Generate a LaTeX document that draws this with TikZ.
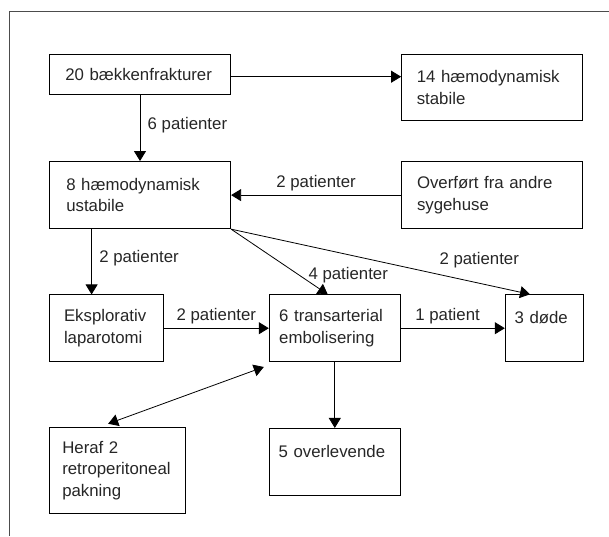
\documentclass[tikz,border=0pt]{standalone}
\usepackage{fontspec}
\setmainfont{Liberation Sans}
\usetikzlibrary{arrows.meta}
\usetikzlibrary{positioning}

\begin{document}
\begin{tikzpicture}[x=1pt,y=-1pt,->,>={Triangle[length=10pt,width=12pt]},thick,text=black!85,
  font=\fontsize{16.8}{21.7}\selectfont,
  box/.style={rectangle,draw,-,align=left,inner ysep=3pt}]
		\useasboundingbox (0,0) rectangle (609,536);
		\draw[-,black!70,line width=0.8pt] (609,11.7) -- (9,11.7) -- (9,536);

		\node[box,minimum width=181.4pt,minimum height=40.7pt,inner xsep=16pt,text width=149.4pt] (frak) at (140,74.3) {20 bækkenfrakturer};
		\node[box,minimum width=180.8pt,minimum height=66.8pt,inner xsep=15.3pt,text width=150.2pt,right=170pt of frak.north east,anchor=north west] (stabil) {14 hæmodynamisk\\stabile};
		\node[box,minimum width=181.4pt,minimum height=67.3pt,inner xsep=17pt,text width=147.4pt,below=66pt of frak] (ustabil) {8 hæmodynamisk\\ustabile};
		\node[box,minimum width=180.8pt,minimum height=67.3pt,inner xsep=15.5pt,text width=149.8pt,right=170pt of ustabil] (overfort) {Overført fra andre\\sygehuse};
		\node[box,minimum width=114.1pt,minimum height=66.7pt,inner xsep=14.7pt,text width=84.7pt,below=65.3pt of ustabil.south west,anchor=north west] (eksplor) {Eksplorativ\\laparotomi};
		\node[box,minimum width=131.2pt,minimum height=66.7pt,inner xsep=10pt,text width=111.2pt,right=105pt of eksplor] (trans) {6 transarterial\\embolisering};
		\node[box,minimum width=77.7pt,minimum height=67pt,inner xsep=9.4pt,text width=58.9pt,right=104pt of trans] (dode) {3 døde\\\mbox{}};
		\node[box,minimum width=135.7pt,minimum height=85.7pt,inner xsep=13pt,text width=109.7pt,below=65.3pt of eksplor.south west,anchor=north west] (heraf) {Heraf 2\\retroperitoneal\\pakning};
		\node[box,minimum width=131.7pt,minimum height=67.3pt,inner xsep=9.7pt,text width=112.3pt,below=66pt of trans] (overlev) {5 overlevende\\\mbox{}};

		\draw ([yshift=-2.4pt]frak.east) -- ([yshift=-2.4pt]frak.east -| stabil.west);
		\draw (frak) -- node[pos=0.45,right=4pt] {6 patienter} (ustabil);
		\draw (overfort) -- node[above] {2 patienter} (ustabil);
		\draw ([xshift=42.7pt]ustabil.south west) -- node[pos=0.45,right=4pt] {2 patienter} ([xshift=42.7pt]eksplor.north west);
		\draw (ustabil.south east) -- node[pos=0.7,right=6pt] {4 patienter} ([xshift=-7pt]trans.north);
		\draw (ustabil.south east) -- node[pos=0.83,above=12pt] {2 patienter} ([xshift=-14pt]dode.north);
		\draw (eksplor) -- node[above] {2 patienter} (trans);
		\draw (trans) -- node[pos=0.45,above] {1 patient} (dode);
		\draw (trans) -- (overlev);
		\draw[<->] ([xshift=-9pt,yshift=3.5pt]heraf.north) -- ([xshift=-5pt,yshift=-5pt]trans.south west);
\end{tikzpicture}
\end{document}
